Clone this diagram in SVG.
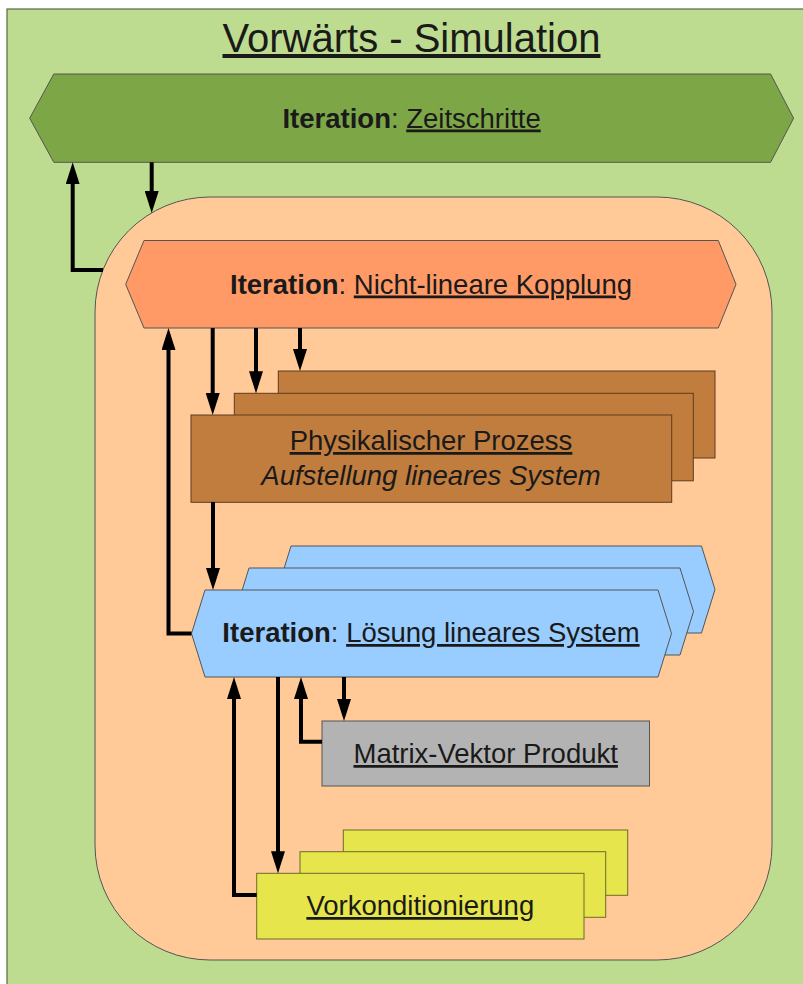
<svg xmlns="http://www.w3.org/2000/svg" width="803" height="984" viewBox="0 0 803 984">
<style>
text{font-family:"Liberation Sans",Arial,sans-serif;font-size:27.5px;fill:#1a1a1a;text-anchor:middle}
.u{text-decoration:underline}
.b{font-weight:bold}
.shape{stroke:#555;stroke-width:1}
.conn{fill:none;stroke:#000;stroke-width:4;stroke-linejoin:miter;stroke-linecap:butt}
</style>
<defs>
<marker id="ah" markerUnits="userSpaceOnUse" markerWidth="22" markerHeight="14" refX="4" refY="7" orient="auto">
<path d="M0,0 L22,7 L0,14 Z" fill="#000"/>
</marker>
</defs>
<g id="frame">
<rect x="7" y="9" width="800" height="980" fill="#bedc8f" stroke="#556b45" stroke-width="1.2"/>
<text x="411.5" y="52" style="font-size:40px" class="u">Vorwärts - Simulation</text>
</g>
<g id="zeitschritte">
<polygon class="shape" points="29.7,118.2 53.8,74 770.6,74 793.6,118.2 770.6,162.3 53.8,162.3" fill="#7da647"/>
<text x="411.6" y="127.5"><tspan class="b">Iteration</tspan>: <tspan class="u">Zeitschritte</tspan></text>
</g>
<g id="kopplung-bereich">
<rect class="shape" x="95" y="197" width="677" height="763" rx="115" ry="115" fill="#ffca97"/>
</g>
<g id="kopplung">
<polygon class="shape" points="125.7,284.3 144,240.5 718.3,240.5 736,284.3 718.3,328 144,328" fill="#ff9966"/>
<text x="431" y="293.5"><tspan class="b">Iteration</tspan>: <tspan class="u">Nicht-lineare Kopplung</tspan></text>
</g>
<g id="prozess">
<rect x="278.3" y="371" width="436.7" height="87" fill="#c07d3e" stroke="#5c3d1e" stroke-width="1"/>
<rect x="234.3" y="393.3" width="459" height="87.5" fill="#c07d3e" stroke="#5c3d1e" stroke-width="1"/>
<rect x="191" y="415" width="480.7" height="87.3" fill="#c07d3e" stroke="#5c3d1e" stroke-width="1"/>
<text x="431" y="450" class="u">Physikalischer Prozess</text>
<text x="431" y="485" style="font-style:italic">Aufstellung lineares System</text>
</g>
<g id="loesung">
<polygon class="shape" points="277.5,589.5 291,546 701.5,546 715,589.5 701.5,633 291,633" fill="#99ccff"/>
<polygon class="shape" points="235.5,611.5 249,568 680,568 693.5,611.5 680,655 249,655" fill="#99ccff"/>
<polygon class="shape" points="191.5,633.5 205,590 658,590 671.5,633.5 658,677 205,677" fill="#99ccff"/>
<text x="431" y="642"><tspan class="b">Iteration</tspan>: <tspan class="u">Lösung lineares System</tspan></text>
</g>
<g id="matvec">
<rect class="shape" x="322" y="721" width="327.5" height="65" fill="#b3b3b3"/>
<text x="485.7" y="763" class="u">Matrix-Vektor Produkt</text>
</g>
<g id="vorkonditionierung">
<rect x="343.3" y="830" width="284.4" height="65.3" fill="#e6e64c" stroke="#6b6b2a" stroke-width="1"/>
<rect x="300" y="851.7" width="305.7" height="65.6" fill="#e6e64c" stroke="#6b6b2a" stroke-width="1"/>
<rect x="256.7" y="873.3" width="327.3" height="65.7" fill="#e6e64c" stroke="#6b6b2a" stroke-width="1"/>
<text x="420.3" y="915" class="u">Vorkonditionierung</text>
</g>
<g id="connectors">
<path class="conn" d="M103,270 H72.7 V180.3" marker-end="url(#ah)"/>
<path class="conn" d="M151.7,162.3 V195" marker-end="url(#ah)"/>
<path class="conn" d="M191.5,633.5 H168.5 V346" marker-end="url(#ah)"/>
<path class="conn" d="M212.7,328 V397" marker-end="url(#ah)"/>
<path class="conn" d="M256,328 V375.3" marker-end="url(#ah)"/>
<path class="conn" d="M300,328 V353" marker-end="url(#ah)"/>
<path class="conn" d="M213,502 V572" marker-end="url(#ah)"/>
<path class="conn" d="M256.7,895 H234 V695" marker-end="url(#ah)"/>
<path class="conn" d="M278,677 V855.3" marker-end="url(#ah)"/>
<path class="conn" d="M322,741.7 H301 V695" marker-end="url(#ah)"/>
<path class="conn" d="M344,677 V703" marker-end="url(#ah)"/>
</g>
</svg>
